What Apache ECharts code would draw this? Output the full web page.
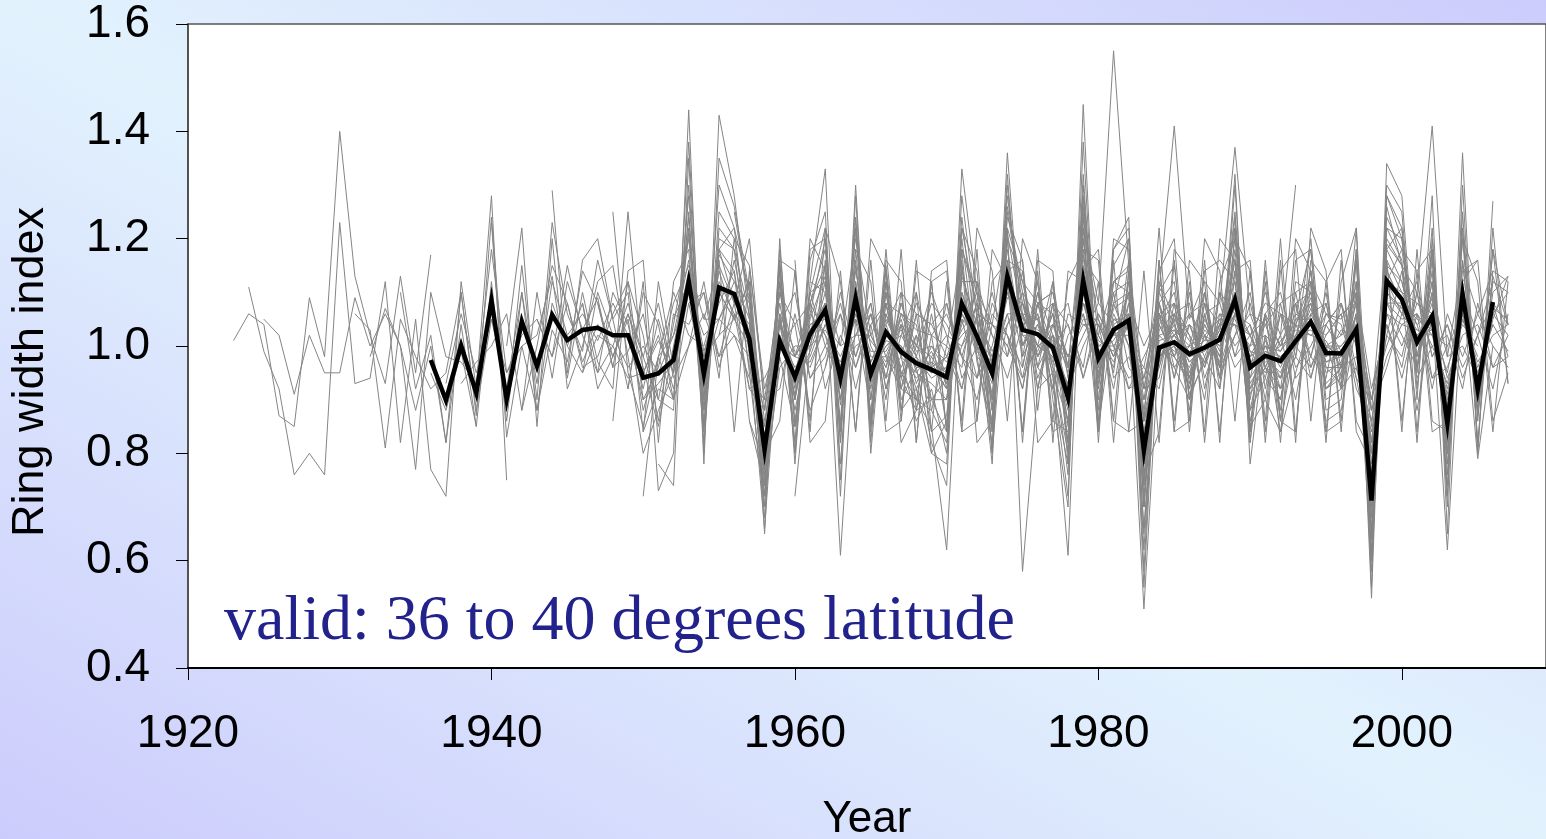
<!DOCTYPE html>
<html>
<head>
<meta charset="utf-8">
<script src="https://cdn.jsdelivr.net/npm/echarts@6/dist/echarts.min.js"></script>
<style>
html,body{margin:0;padding:0;width:1546px;height:839px;overflow:hidden;}
body{background:linear-gradient(to top right,#ccccfc 0%,#e2f2fd 50%,#ccccfc 100%);}
#chart{width:1546px;height:839px;}
</style>
</head>
<body>
<div id="chart"></div>
<script>
// ---------- axis ticks ----------
const xTicks = [1920, 1940, 1960, 1980, 2000];
const yTicks = [0.4, 0.6, 0.8, 1.0, 1.2, 1.4, 1.6];
const xAxisTitle = 'Year';
const yAxisTitle = 'Ring width index';
const noteText = 'valid: 36 to 40 degrees latitude';

// ---------- mean chronology (black line), 1936-2006 ----------
const meanStart = 1936;
const meanIndex = [
  0.974,0.899,1.001,0.912,
  1.085,0.900,1.046,0.962,1.058,1.011,1.030,1.034,1.020,1.020,
  0.941,0.949,0.974,1.120,0.948,1.109,1.097,1.013,0.807,1.009,
  0.942,1.022,1.067,0.940,1.089,0.948,1.026,0.989,0.968,0.956,
  0.942,1.079,1.018,0.949,1.130,1.030,1.022,0.997,0.903,1.122,
  0.977,1.030,1.048,0.805,0.997,1.007,0.985,0.997,1.012,1.086,
  0.960,0.982,0.972,1.009,1.045,0.987,0.986,1.031,0.712,1.122,
  1.087,1.007,1.056,0.856,1.097,0.919,1.082
];

// ---------- individual tree series (grey lines) ----------
const treeStarts = [1923,1924,1925,1931,1932,1936,1937,1938,1940,1941,
                    1943,1944,1945,1946,1948,1950,1951,1952,1954,1955,
                    1956,1958,1960,1961,1963,1966,1970,1975,1934,1942,
                    1947,1949,1953,1957,1959,1962,1964,1967,1972,1946,
                    1950,1953,1957,1960,1965,1948];
const tree01 = [1.01,1.06,1.04,0.87,0.85,1.09,0.98, 1.40,1.13,1.02,0.93,1.13,0.95,1.17];
const tree02 = [1.11,0.99,0.92,0.76,0.80,0.76, 1.23,0.93,0.94,1.12,0.82,1.05,0.77,0.72,1.12,0.92, 1.28,0.75];
const tree03 = [1.05,1.02,0.91,1.02,0.95, 0.95,1.09,1.00,1.06,1.00,0.88,1.00,0.82,1.04,0.85];
const tree04 = [1.06,1.03,0.81,1.05,0.98,0.92,0.95,1.10,0.87, 1.24,0.88,1.15,0.90,1.23,1.06,0.99,1.16,1.05,1.10, 0.84,0.92,0.90,1.30,0.88,1.20,1.18,1.06,0.70];
const tree05 = [0.98,1.07,1.00,0.77,1.10,0.98,0.97,0.93, 1.18,0.95,1.00,1.02,1.13,0.94,1.10,0.97,0.92,1.25, 0.95,1.01,0.95,1.21,0.95,1.14,1.05,1.12,0.80,1.06, 0.90,1.08,1.15];
const tree06 = [0.95,0.88,0.99,0.85, 1.12,0.86,1.10,0.93,1.12,1.02,1.06,1.01,1.08,1.02, 0.90,0.93,0.97,1.22,0.90,1.17,1.12,1.05,0.74,1.02, 0.91,1.05,1.13,0.89,1.15,0.92,1.06,0.98,0.95,0.93, 0.90,1.13,1.04,0.91,1.21,1.05,1.03,1.01,0.86,1.20, 0.96,1.07,1.09,0.72,1.01,1.02,0.97,1.00,1.04,1.16, 0.93,0.98,0.95,1.02,1.09,0.97,0.98,1.06,0.62,1.19, 1.15,1.01,1.09,0.80,1.16,0.88,1.13,1.04];
const tree07 = [0.93,1.06,0.95, 1.05,0.95,1.02,1.05,0.98,1.08,0.97,1.04,0.98,1.06, 0.96,0.85,1.00,1.14,0.99,1.08,1.14,0.96,0.85,1.10, 0.98,0.97,1.04,0.96,1.06,0.99,0.99,1.04,0.93,1.00, 0.97,1.03,1.07,0.97,1.09,1.08,0.98,1.04,0.95,1.10, 1.01,0.99,1.10,0.86,0.97,1.05,1.01,0.96,1.04,1.07, 0.99,0.95,1.01,1.04,1.02,1.01,0.96,1.06,0.80,1.10, 1.07,1.03,1.02,0.91,1.06,0.95,1.04];
const tree08 = [0.93,0.97, 1.00,1.06,0.88,1.10,0.94,1.12,1.03,1.09,0.96,0.99, 1.06,0.90,0.88,1.38,0.85,1.25,1.20,1.00,0.72,0.98, 0.85,1.10,1.22,0.82,1.24,0.86,1.10,0.95,0.90,0.88, 0.82,1.24,1.00,0.86,1.30,1.00,1.08,0.96,0.80,1.30, 0.92,1.12,1.15,0.65,1.04,0.98,0.93,1.05,0.99,1.25, 0.88,1.02,0.92,0.98,1.14,0.93,0.96,1.12,0.58,1.28, 1.20,0.96,1.14,0.74,1.25];
const tree09 = [1.23,0.83,1.00,0.88,1.03,0.97,1.14,1.08,0.98,1.05, 0.88,0.98,1.02,1.16,0.93,1.10,1.05,1.10,0.78,1.05, 0.93,0.99,1.08,0.92,1.12,0.95,1.00,1.03,0.98,0.94, 0.96,1.08,0.98,0.95,1.15,1.02,0.99,1.06,0.89,1.14, 1.00,1.02,1.02,0.80,1.02,1.03,1.00,0.97,1.02,1.10, 0.96,1.00,0.99,1.05,1.05,1.00,1.02,1.04,0.68,1.14, 1.08,1.05,1.03,0.87,1.09,0.92,1.05,1.13];
const tree10 = [1.00,1.22,0.85,1.20,0.92,1.00,1.12,1.15,0.98, 0.80,0.88,0.95,1.28,0.90,1.30,1.22,0.98,0.66,1.05, 0.88,1.02,1.15,0.85,1.18,0.90,1.12,0.92,1.02,0.84, 0.87,1.18,1.08,0.88,1.26,1.10,0.96,1.02,0.82,1.25, 0.93,1.08,1.20,0.70,1.05,1.10,0.93,1.02,0.97,1.20, 0.91,0.96,0.90,1.08,1.10,0.96,0.93,1.09,0.65,1.24, 1.18,0.98,1.12,0.80,1.20,0.87,1.12];
const tree11 = [1.05,0.98,1.15,1.02,0.95,1.10,1.04, 0.92,1.05,0.95,1.10,1.02,1.05,1.12,1.08,0.86,1.00, 0.95,1.06,1.02,0.97,1.05,1.01,0.97,1.06,0.99,1.00, 0.95,1.06,1.01,0.98,1.10,1.04,1.05,0.97,0.93,1.08, 1.02,0.97,1.05,0.87,1.00,0.98,1.04,1.01,1.06,1.05, 0.98,1.04,0.97,1.00,1.07,0.98,1.03,1.02,0.82,1.08, 1.05,1.06,1.00,0.93,1.05,0.98];
const tree12 = [1.29,0.95,1.16,1.20,1.05,0.92, 1.12,0.73,0.80,1.44,0.78,1.43,1.28,1.05,0.68,1.12, 0.80,1.12,1.33,0.75,1.30,0.82,1.15,0.90,0.96,0.82, 0.74,1.33,1.10,0.80,1.36,0.98,1.12,0.90,0.70,1.45, 0.86,1.18,1.24,0.58,1.12,1.05,0.88,1.10,0.92,1.30, 0.82,1.06,0.86,1.00,1.20,0.90,0.92,1.22,0.55,1.34, 1.28,0.92,1.22,0.70,1.36,0.80,1.22,0.93];
const tree13 = [1.00,1.08,0.95,1.00,1.08, 0.98,0.90,1.04,1.20,0.92,1.18,1.08,1.04,0.77,1.02, 0.96,1.00,1.10,0.93,1.11,0.93,1.05,0.99,0.94,0.97, 0.92,1.10,1.00,0.93,1.18,1.00,1.04,0.99,0.88,1.17, 0.97,1.04,1.06,0.76,0.99,1.04,0.98,0.99,1.03,1.12, 0.94,0.99,0.97,1.01,1.06,1.00,0.98,1.04,0.74];
const tree14 = [0.95,1.02,1.00,0.94, 0.95,1.02,0.92,1.08,0.95,1.05,1.10,1.00,0.83,1.04, 0.90,1.04,1.05,0.90,1.08,0.94,1.01,1.00,0.92,0.98, 0.93,1.05,1.02,0.94,1.12,1.06,1.00,0.98,0.92,1.10, 0.98,1.05,1.03,0.83,0.98,1.00,0.96,1.03,1.00,1.08, 0.97,0.97,0.98,1.00,1.04,0.97,0.99,1.02,0.76,1.12, 1.06,1.02,1.05,0.88,1.08,0.93,1.06,1.10];
const tree15 = [1.25,0.95, 0.85,0.98,0.90,1.25,0.85,1.22,1.18,0.95,0.70,1.15, 0.85,1.08,1.18,0.84,1.22,0.85,1.08,0.94,0.88,0.90, 0.84,1.20,0.97,0.85,1.28,1.06,1.05,0.92,0.78,1.28, 0.94,1.10,1.12,0.66,1.06,1.08,0.91,0.97,1.03,1.22, 0.88,0.94,0.90,1.04,1.12,0.92,0.95,1.10,0.60,1.26, 1.15,0.95,1.16,0.72];
const tree16 = [0.72,0.98,1.10,1.02,1.00,1.10,1.05,1.12,0.75,0.96, 1.00,1.00,1.03,0.98,1.05,0.97,1.04,0.96,1.02,0.95, 0.96,1.08,1.00,0.96,1.10,1.02,1.02,1.00,0.92,1.12, 0.97,1.03,1.04,0.82,1.00,1.01,0.98,1.00,1.01,1.07, 0.97,0.99,0.98,1.01,1.04,0.99,0.99,1.03,0.78,1.10, 1.07,1.01,1.05,0.89,1.07,0.94,1.07,1.05];
const tree17 = [0.78,0.74,1.35,0.80,1.35,1.26,1.10,0.65,1.20, 0.78,1.16,1.25,0.72,1.28,0.80,1.12,0.88,0.92,0.80, 0.78,1.28,1.05,0.78,1.32,0.96,1.10,0.94,0.72,1.38, 0.88,1.15,1.20,0.55,1.10,1.15,0.90,1.06,0.94,1.32, 0.78,1.02,0.84,1.06,1.18,0.88,0.90,1.18,0.53,1.30, 1.25,0.90,1.28,0.65,1.30,0.80,1.27];
const tree18 = [1.05,1.12,0.98,1.02,1.16,1.02,0.82,1.00, 0.98,1.03,1.08,0.96,1.08,0.95,1.00,1.02,0.97,0.95, 0.98,1.06,1.00,0.97,1.12,1.04,1.00,1.02,0.90,1.10, 0.99,1.01,1.06,0.84,1.02,0.99,1.00,1.02,1.00,1.06, 0.99,0.98,1.00,1.02,1.03,1.00,1.00,1.04,0.80,1.08, 1.08,1.00,1.04,0.90,1.06,0.96,1.04,0.99];
const tree19 = [1.05,1.15,1.08,1.20,0.88,1.08, 0.92,1.10,1.12,0.90,1.12,0.90,1.08,0.95,0.98,0.90, 0.90,1.14,1.02,0.90,1.20,1.12,0.98,1.06,0.85,1.20, 0.95,1.08,1.10,0.74,1.03,1.06,0.95,1.04,0.98,1.16, 0.92,1.00,0.94,1.05,1.08,0.95,0.97,1.08,0.66,1.18, 1.12,1.00,1.10,0.82,1.12];
const tree20 = [1.02,1.05,1.00,0.85,1.05, 0.95,0.98,1.06,0.92,1.10,0.98,0.98,1.05,0.95,0.99, 0.93,1.09,0.99,0.95,1.16,1.00,1.06,0.96,0.91,1.15, 1.00,1.00,1.04,0.80,0.99,1.03,0.97,1.00,1.02,1.10, 0.96,1.01,0.96,1.02,1.05,0.98,1.00,1.03,0.70,1.16, 1.10,1.04,1.06,0.86,1.10,0.90,1.10,1.13];
const tree21 = [1.25,1.08,0.72,1.18, 0.86,1.06,1.20,0.82,1.22,0.86,1.06,0.98,0.86,0.92, 0.80,1.22,1.06,0.84,1.25,1.08,1.00,0.98,0.76,1.32, 0.90,1.12,1.14,0.62,1.08,1.00,0.92,1.06,0.96,1.24, 0.86,0.98,0.92,0.98,1.14,0.92,0.94,1.16,0.60,1.28, 1.22,0.96,1.18,0.72,1.25,0.82];
const tree22 = [0.78,1.00, 0.98,1.04,1.06,0.94,1.06,0.97,1.02,1.00,0.96,0.97, 0.95,1.06,1.02,0.96,1.10,1.03,1.02,0.99,0.93,1.08, 0.99,1.02,1.04,0.86,1.00,1.02,0.99,1.01,1.01,1.06, 0.98,1.00,0.98,1.01,1.04,1.00,0.98,1.04,0.82,1.10, 1.06,1.02,1.03,0.92,1.05,0.97,1.02,1.04];
const tree23 = [0.72,1.00,1.12,0.61,1.05,0.88,1.10,0.92,0.90,0.85, 0.62,1.15,0.98,0.82,1.22,0.58,0.92,0.95,0.61,1.28, 0.85,1.05,1.05,0.51,1.00,0.96,0.90,0.98,0.92,1.10, 0.85,0.90,0.84,0.95,1.05,0.86,0.88,1.04,0.60,1.14, 1.08,0.88,1.06,0.62,1.10,0.79,1.00];
const tree24 = [1.12,1.10,1.00,1.20,1.02,1.08,1.06,1.03,1.02, 1.00,1.18,1.10,1.04,1.22,1.12,1.08,1.10,0.96,1.22, 1.08,1.55,1.15,0.92,1.10,1.41,1.05,1.12,1.08,1.37, 1.06,1.04,1.08,1.10,1.12,1.06,1.05,1.10,0.88,1.20, 1.15,1.10,1.41,0.98,1.15,1.06,1.14,1.12];
const tree25 = [0.95,1.00,1.02,0.96,1.08,1.00,0.98, 1.02,1.00,1.05,0.98,1.04,1.08,1.02,1.04,0.98,1.05, 1.05,0.98,1.08,0.90,0.98,1.02,1.04,0.98,1.05,1.04, 1.00,1.02,0.99,1.03,1.02,1.04,0.99,1.02,0.90,1.06, 1.04,1.03];
const tree26 = [1.04,1.10,0.88,1.02, 0.85,1.12,1.12,0.88,1.16,1.14,0.96,1.08,0.82,1.22, 1.05,0.95,1.16,0.70,1.08,1.12,0.90,1.08,0.96,1.18, 0.90,1.06,0.88,1.12,1.10,0.92,0.96,1.12,0.64,1.22, 1.20,0.98,1.12,0.78,1.22,0.86,1.18,0.93];
const tree27 = [0.90,1.05,0.94,1.00,1.12,0.98,1.04,0.95,0.86,1.18, 0.94,1.06,1.00,0.78,0.98,1.00,0.94,1.04,0.98,1.14, 0.92,0.96,0.94,1.00,1.08,0.96,0.96,1.06,0.72,1.15, 1.12,1.00,1.08,0.84,1.12,0.90,1.08,1.04];
const tree28 = [1.10,1.05,1.08,0.96,1.26, 1.02,1.12,1.10,0.88,1.06,1.02,1.06,1.02,1.05,1.08, 1.02,1.05,1.00,1.06,1.04,1.02,1.06,1.08,0.85,1.12, 1.10,1.08,1.04,0.95,1.10,1.02,1.12,1.10];
const tree29 = [1.10,0.92,1.02,0.82,1.10,0.88, 1.05,0.92,1.10,0.88,1.08,1.00,0.95,1.10,1.02,0.96, 1.00,0.95,1.02,1.10,0.98,1.12,1.06,1.02,0.78,1.00, 0.94,1.02,1.08,0.94,1.10,0.96,1.02,1.00,0.96,0.96, 0.92,1.10,1.02,0.94,1.14,1.02];
const tree30 = [0.88,1.00,1.15,1.08,0.96,0.98,1.06,1.12, 0.90,0.96,1.08,1.15,1.05,1.05,1.02,0.98,0.88,1.06, 0.99,0.96,1.04,1.00,1.02,1.02,0.96,1.04,1.00,0.96, 0.98,1.02,1.05,0.99,1.06,1.06,0.98,1.02,0.96,1.08, 1.04,0.98,1.04,0.92,0.96,1.06,1.02,0.97,1.04,1.04, 1.02,0.96,1.02,1.30];
const tree31 = [1.08,0.96,1.12, 1.02,0.86,1.06,1.04,1.10,0.94,1.20,1.15,0.90,0.92, 1.06,0.94,0.98,1.08,0.96,1.04,0.90,1.10,1.06,0.88, 1.00,0.96,1.12,1.02,0.98,1.14,0.92,1.08,1.04,0.96, 1.12,0.94,0.98,0.90,1.08,0.94,1.10,0.92,1.06,1.00, 1.04,0.90,1.08,0.94,0.98,1.10,0.92,0.96,0.84,1.02, 1.14,0.94,1.00,1.02,0.92,1.08,0.96,1.02];
const tree32 = [0.92, 1.10,1.04,0.90,1.00,1.12,0.96,1.06,0.92,0.88,1.12, 0.90,1.10,1.00,0.94,1.02,1.08,0.92,1.04,0.90,1.06, 0.92,1.00,1.08,0.90,1.04,1.10,0.94,1.02,0.98,1.06, 0.94,1.10,0.96,0.92,0.94,1.08,1.02,0.90,1.10,0.98, 1.08,0.96,0.92,1.10,0.96,1.02,1.06,0.92,0.86,1.02, 0.98,1.10,0.94,0.96,1.04,1.00];
const tree33 = [1.08,1.10,0.98,1.02,0.94,0.90,1.10, 1.04,0.88,0.96,1.10,0.98,1.06,0.94,0.98,1.08,1.02, 1.06,0.98,0.90,1.04,1.02,0.92,1.08,1.10,0.96,1.02, 1.08,1.04,0.92,0.94,1.06,0.98,0.94,1.08,1.04,0.96, 1.00,1.10,1.02,0.90,1.06,1.08,0.96,0.98,0.88,0.96, 1.06,1.12,0.98,1.04,0.96,1.02,0.92,1.06];
const tree34 = [1.15,0.92,1.04, 0.98,1.08,1.02,0.92,1.14,1.00,0.94,1.06,1.04,0.90, 0.94,1.04,1.10,0.96,1.06,0.94,1.00,1.12,0.94,1.08, 0.98,1.02,1.10,0.86,0.96,1.06,1.08,0.94,1.02,1.04, 0.94,1.06,1.00,1.08,0.98,0.94,1.08,1.00,0.82,1.06, 1.00,1.08,1.06,0.94,1.02,1.04,0.96,0.98];
const tree35 = [1.04, 1.10,0.94,1.00,1.06,0.92,1.04,1.08,0.94,1.00,1.10, 1.02,0.92,1.06,1.04,1.00,1.08,0.96,0.92,1.06,1.04, 1.02,0.96,1.12,0.92,1.04,0.98,1.06,1.08,0.94,1.02, 1.06,0.98,0.94,1.04,1.10,1.00,0.92,1.06,0.90,1.00, 1.08,1.04,0.94,1.00,1.06];
const tree36 = [0.96,1.06,0.98,1.08,0.92,1.02,1.10,0.96, 1.08,0.98,0.94,1.08,1.02,0.96,1.10,1.02,0.92,1.00, 1.06,1.00,0.94,0.96,1.10,1.04,0.92,1.06,1.08,0.98, 1.02,1.08,1.06,0.96,1.00,1.06,1.04,0.94,0.80,1.08, 1.02,0.96,1.10,0.98,1.00,0.94,1.06,1.02];
const tree37 = [1.02,1.06,0.94,1.08,0.98,1.08, 1.04,0.98,1.08,1.02,0.94,1.04,1.06,0.92,1.02,1.06, 0.96,1.08,1.00,0.96,0.92,1.06,0.98,1.10,0.96,1.02, 1.10,0.92,1.06,1.04,0.98,1.08,0.94,1.04,0.88,0.98, 1.04,1.06,0.92,1.06,0.98,1.06,1.00,0.96];
const tree38 = [0.94,1.06,1.04, 1.08,0.94,1.00,1.10,0.98,1.06,0.92,1.04,1.08,0.94, 1.04,0.92,1.08,1.00,1.06,0.94,1.04,0.96,1.10,1.06, 0.96,1.06,1.10,0.98,0.94,1.04,1.08,0.96,0.86,1.04, 0.94,1.06,1.02,1.00];
const tree39 = [0.94,1.06,1.02,0.92,1.08,1.06,0.98,1.04, 1.04,0.98,1.06,0.94,1.08,0.96,1.00,1.10,0.94,1.06, 1.04,0.96,1.02,1.08,0.94,1.06,1.02,1.10,0.92,1.04, 0.96,1.10,0.98,1.04,0.94,1.02,1.08,0.98];
const tree40 = [1.08,0.92,0.98,1.06, 0.98,1.08,0.94,1.00,1.06,0.98,1.08,0.92,0.94,1.00, 1.04,1.08,0.92,1.02,0.96,1.06,0.98,0.92,1.06,1.04, 0.98,0.92,1.06,1.04,1.00,0.94,1.08,1.00,1.04,0.94, 1.06,1.00,0.92,0.98,1.04,1.08,0.94,1.02,0.96,1.06, 1.02,0.94,1.06,1.00,0.96,1.04,1.08,0.94,0.90,1.06];
const tree41 = [0.84,1.12,0.96,1.24,0.88,1.18,1.22,1.10,0.76,1.16, 0.82,1.20,1.14,0.86,1.24,0.84,1.18,0.88,1.10,0.80, 0.86,1.22,1.14,0.84,1.24,1.16,0.88,1.12,0.80,1.22, 0.84,1.18,1.22,0.74,1.16,0.86,1.12,0.84,1.20,1.16, 0.82,1.16,0.86,1.20,1.14,0.84,1.12,1.22,0.72,1.18, 1.22,0.84,1.20,0.80,1.16,0.88,1.18,1.04];
const tree42 = [1.22,0.82,1.18,1.14,0.86,0.74,1.14, 0.80,1.18,1.20,0.78,1.16,0.86,1.14,0.82,0.88,1.12, 0.84,1.16,0.82,0.86,1.20,0.82,1.16,1.14,0.78,1.24, 0.82,1.20,1.18,0.70,1.14,1.20,0.84,1.16,0.82,1.22, 0.84,1.12,0.82,1.16,1.18,0.84,0.86,1.18,0.68,1.22, 1.16,0.82,1.18,0.76,1.22,0.82,1.14];
const tree43 = [0.86,0.78,1.16, 1.14,0.84,1.22,1.12,0.84,1.16,0.86,1.18,0.82,1.12, 1.14,0.84,1.18,0.80,1.14,1.16,0.82,0.86,1.12,1.18, 1.16,0.82,1.14,0.76,0.84,1.18,1.14,0.82,1.12,1.20, 1.14,0.84,1.16,0.82,1.22,1.14,0.84,1.16,0.74,1.16, 0.84,1.18,0.86,0.84,1.20,1.12,0.84,1.12];
const tree44 = [1.16,0.82,0.86,1.14,0.84,1.20,1.14,0.86,1.16,0.84, 1.12,0.86,1.22,1.14,0.86,1.20,1.12,0.84,0.86,1.14, 1.18,0.86,0.84,0.86,1.22,0.84,1.16,1.12,0.84,1.14, 1.16,0.82,1.14,1.18,0.86,1.12,1.18,0.84,0.78,1.12, 1.18,1.14,0.84,0.86,1.14,1.16];
const tree45 = [0.86,1.16,1.12,0.82,1.14, 1.16,0.84,0.86,1.18,1.12,0.84,1.18,0.82,1.14,1.12, 0.84,1.16,0.84,1.14,0.82,1.16,0.86,1.20,1.14,0.86, 1.14,0.86,1.20,0.84,1.12,0.82,1.16,0.86,0.80,1.16, 0.86,1.14,1.18,0.82,1.12,1.16,0.86,0.95];
const tree46 = [0.86,1.14, 1.16,0.82,1.12,1.18,0.84,1.16,0.84,1.14,0.80,0.86, 1.14,0.86,1.16,0.84,1.18,1.12,0.84,0.86,1.14,1.12, 0.84,1.18,0.86,1.12,1.16,0.84,1.14,0.86,0.84,1.16, 1.12,0.86,1.14,0.78,1.16,0.84,0.86,1.14,1.16,1.12, 0.84,1.14,0.86,0.84,1.16,1.12,0.86];

const treeSeries = [tree01,tree02,tree03,tree04,tree05,tree06,tree07,tree08,tree09,tree10,
                    tree11,tree12,tree13,tree14,tree15,tree16,tree17,tree18,tree19,tree20,
                    tree21,tree22,tree23,tree24,tree25,tree26,tree27,tree28,tree29,tree30,
                    tree31,tree32,tree33,tree34,tree35,tree36,tree37,tree38,tree39,tree40,
                    tree41,tree42,tree43,tree44,tree45,tree46];

// ---------- build chart ----------
function toPairs(start, vals) { return vals.map((v, i) => [start + i, v]); }

const FONT = '"Liberation Sans", Arial, sans-serif';
const series = [];
treeSeries.forEach((vals, k) => {
  series.push({
    type: 'line', data: toPairs(treeStarts[k], vals),
    showSymbol: false, silent: true, z: 2,
    lineStyle: { color: '#858585', width: 1 }
  });
});
series.push({
  type: 'line', data: toPairs(meanStart, meanIndex),
  showSymbol: false, silent: true, z: 5,
  lineStyle: { color: '#000000', width: 4.5, join: 'miter' }
});

const chart = echarts.init(document.getElementById('chart'), null, { renderer: 'canvas' });
chart.setOption({
  animation: false,
  backgroundColor: 'transparent',
  grid: {
    left: 188, top: 24, right: 0, height: 644,
    outerBoundsMode: 'none', containLabel: false,
    show: true, backgroundColor: '#ffffff', borderColor: '#555555', borderWidth: 1.5
  },
  xAxis: {
    type: 'value',
    min: xTicks[0], max: 2009.5, interval: xTicks[1] - xTicks[0],
    name: xAxisTitle, nameLocation: 'middle', nameGap: 130,
    nameTextStyle: { fontFamily: FONT, fontSize: 44, color: '#000' },
    axisLine: { show: true, onZero: false, lineStyle: { color: '#000', width: 2 } },
    axisTick: { show: true, inside: false, length: 12, lineStyle: { color: '#000', width: 1 } },
    axisLabel: {
      margin: 43, fontFamily: FONT, fontSize: 46, color: '#000', showMaxLabel: false,
      formatter: v => (xTicks.indexOf(v) >= 0 ? String(v) : '')
    },
    splitLine: { show: false }
  },
  yAxis: {
    type: 'value',
    min: yTicks[0], max: yTicks[yTicks.length - 1], interval: 0.2,
    axisLine: { show: true, onZero: false, lineStyle: { color: '#444', width: 1.5 } },
    axisTick: { show: true, inside: false, length: 12, lineStyle: { color: '#000', width: 1 } },
    axisLabel: {
      margin: 38, fontFamily: FONT, fontSize: 46, color: '#000',
      formatter: v => Number(v).toFixed(1)
    },
    splitLine: { show: false }
  },
  graphic: [
    {
      type: 'text', x: 31, y: 372, rotation: Math.PI / 2, silent: true,
      style: { text: yAxisTitle, font: '45px ' + FONT, fill: '#000', textAlign: 'center', textVerticalAlign: 'middle' }
    },
    {
      type: 'text', left: 224, top: 590, silent: true, z: 10,
      style: { text: noteText, font: '64px "Liberation Serif", "Times New Roman", serif', fill: '#22228c' }
    }
  ],
  series: series
});
</script>
</body>
</html>
